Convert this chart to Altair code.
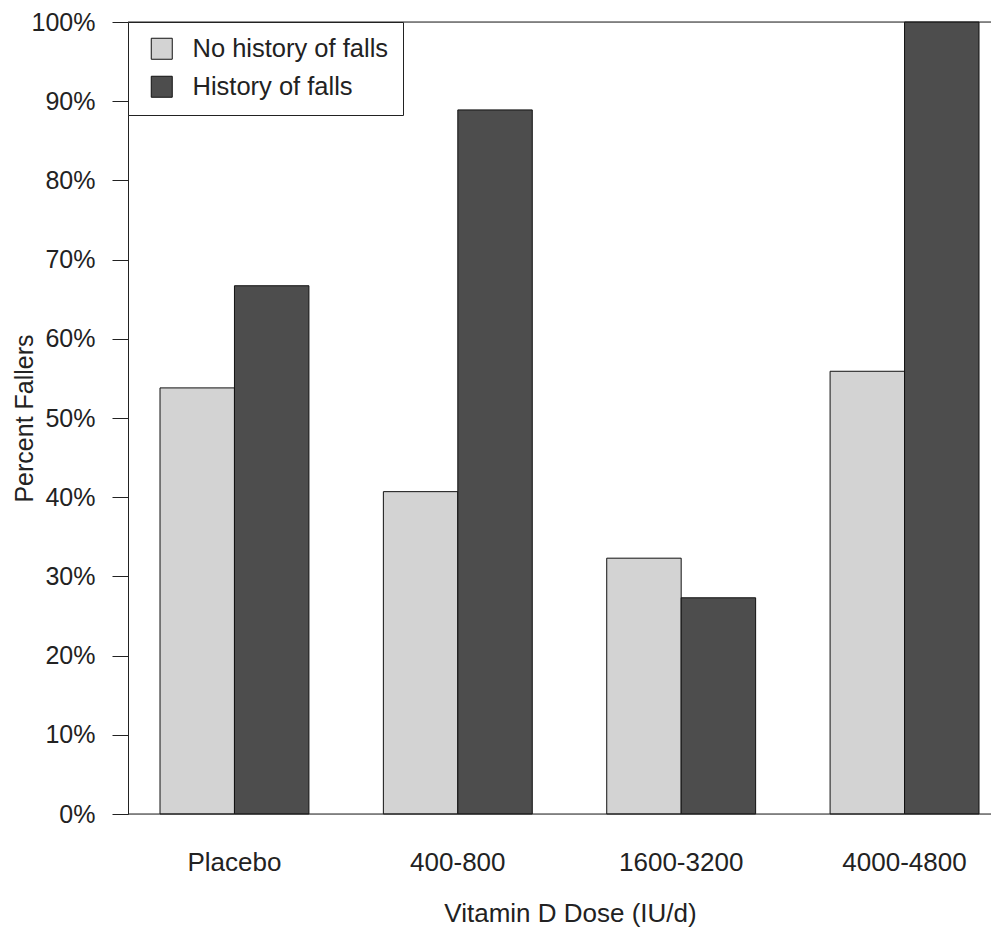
import altair as alt
import pandas as pd

doses = ["Placebo", "400-800", "1600-3200", "4000-4800"]
series_names = ["No history of falls", "History of falls"]
no_history = [0.538, 0.407, 0.323, 0.559]
history = [0.667, 0.889, 0.273, 1.0]
y_ticks = [0, 0.1, 0.2, 0.3, 0.4, 0.5, 0.6, 0.7, 0.8, 0.9, 1.0]
colors = ["#d3d3d3", "#4d4d4d"]

rows = []
for d, a, b in zip(doses, no_history, history):
    rows.append({"dose": d, "series": series_names[0], "value": a})
    rows.append({"dose": d, "series": series_names[1], "value": b})
df = pd.DataFrame(rows)

FONT = "Liberation Sans"
W, H = 863, 792

bars = alt.Chart(df).mark_bar(stroke="#111", strokeWidth=1, opacity=1).encode(
    x=alt.X(
        "dose:N",
        sort=doses,
        scale=alt.Scale(range=[32, 851], paddingInner=1 / 3, paddingOuter=0),
        axis=alt.Axis(
            title="Vitamin D Dose (IU/d)",
            labelAngle=0,
            ticks=False,
            tickSize=0,
            domain=False,
            labelPadding=56,
            labelBaseline="alphabetic",
            labelFontSize=26,
            labelColor="#222",
            labelFont=FONT,
            titleFont=FONT,
            titleFontSize=26,
            titleFontWeight="normal",
            titleColor="#222",
            titleX=442,
            titleY=107,
            titleBaseline="alphabetic",
            titleAlign="center",
            grid=False,
        ),
    ),
    xOffset=alt.XOffset(
        "series:N", sort=series_names, scale=alt.Scale(paddingInner=0, paddingOuter=0)
    ),
    y=alt.Y(
        "value:Q",
        scale=alt.Scale(domain=[0, 1], nice=False),
        axis=alt.Axis(
            title="Percent Fallers",
            values=y_ticks,
            format=".0%",
            grid=False,
            domain=True,
            domainColor="#222",
            tickColor="#222",
            tickSize=16,
            labelPadding=17,
            labelFontSize=25,
            labelColor="#222",
            labelFont=FONT,
            labelBaseline="middle",
            titleFont=FONT,
            titleFontSize=25,
            titleFontWeight="normal",
            titleColor="#222",
            titleAngle=270,
            titleX=-96,
            titleY=396,
            titleBaseline="alphabetic",
            titleAlign="center",
        ),
    ),
    color=alt.Color(
        "series:N",
        sort=series_names,
        scale=alt.Scale(domain=series_names, range=colors),
        legend=alt.Legend(
            title=None,
            orient="top-left",
            offset=0,
            padding=14,
            strokeColor="#222",
            fillColor="white",
            symbolType="square",
            symbolSize=441,
            symbolStrokeColor="#111",
            symbolStrokeWidth=1,
            symbolOpacity=1,
            symbolOffset=7,
            labelFontSize=25.5,
            labelFont=FONT,
            labelColor="#222",
            labelOffset=18,
            labelLimit=500,
            rowPadding=11,
        ),
    ),
)

top_line = alt.Chart(pd.DataFrame({"v": [1.0]})).mark_rule(color="#222", strokeWidth=1).encode(
    y=alt.Y("v:Q", scale=alt.Scale(domain=[0, 1], nice=False))
)
bottom_line = alt.Chart(pd.DataFrame({"v": [0.0]})).mark_rule(color="#222", strokeWidth=1).encode(
    y=alt.Y("v:Q", scale=alt.Scale(domain=[0, 1], nice=False))
)

chart = (
    alt.layer(bars, top_line, bottom_line)
    .properties(
        width=W,
        height=H,
        autosize=alt.AutoSizeParams(type="none"),
        padding={"left": 120, "top": 14, "right": 0, "bottom": 116},
    )
    .configure_view(stroke=None)
    .configure(font=FONT, background="white")
)

chart.save("out.html", embed_options={"renderer": "svg", "actions": False})
